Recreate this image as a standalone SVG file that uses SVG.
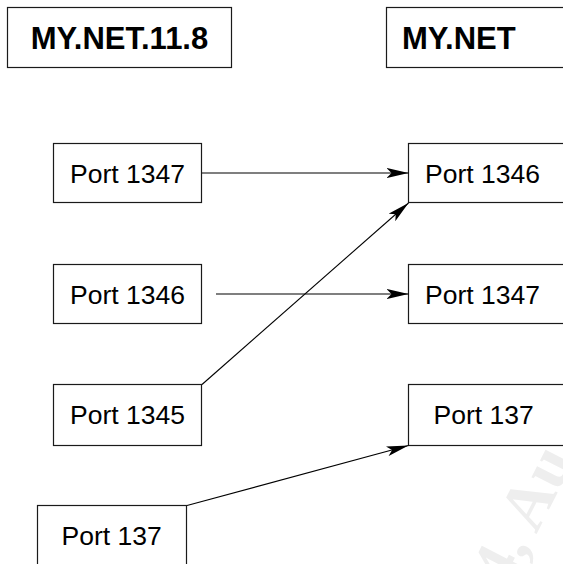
<svg xmlns="http://www.w3.org/2000/svg" width="563" height="564" viewBox="0 0 563 564">
  <style>
    .box { fill: #ffffff; stroke: #1a1a1a; stroke-width: 1.2; }
    .title { font-family: "Liberation Sans", Arial, sans-serif; font-size: 31px; font-weight: bold; fill: #000; }
    .port { font-family: "Liberation Sans", Arial, sans-serif; font-size: 26.5px; fill: #000; }
    .wire { stroke: #000; stroke-width: 1.1; fill: none; marker-end: url(#head); }
    .wm { font-family: "Liberation Serif", "Times New Roman", serif; font-size: 66px; font-weight: bold; fill: #eeeeee; }
  </style>
  <defs>
    <marker id="head" markerUnits="userSpaceOnUse" viewBox="0 0 22 10" markerWidth="22" markerHeight="10" refX="22" refY="5" orient="auto">
      <path d="M0,0 L22,5 L0,10 L5,5 Z" fill="#000"/>
    </marker>
  </defs>
  <rect width="563" height="564" fill="#ffffff"/>

  <!-- faint background stamp -->
  <text class="wm" transform="translate(508,590) rotate(-63)">4, Au</text>

  <!-- host headers -->
  <g id="host-src">
    <rect class="box" x="7.5" y="7.5" width="224" height="60"/>
    <text class="title" x="119.5" y="49" text-anchor="middle">MY.NET.11.8</text>
  </g>
  <g id="host-dst">
    <rect class="box" x="386.5" y="7.5" width="200" height="60"/>
    <text class="title" x="402" y="49">MY.NET</text>
  </g>

  <!-- source ports -->
  <g id="src-1347">
    <rect class="box" x="53.5" y="143.5" width="148" height="59"/>
    <text class="port" x="70" y="183">Port 1347</text>
  </g>
  <g id="src-1346">
    <rect class="box" x="53.5" y="264.5" width="148" height="59"/>
    <text class="port" x="70" y="303.5">Port 1346</text>
  </g>
  <g id="src-1345">
    <rect class="box" x="53.5" y="384.5" width="148" height="61"/>
    <text class="port" x="70" y="423.5">Port 1345</text>
  </g>
  <g id="src-137">
    <rect class="box" x="37.5" y="505.5" width="149" height="70"/>
    <text class="port" x="61.5" y="545">Port 137</text>
  </g>

  <!-- destination ports -->
  <g id="dst-1346">
    <rect class="box" x="408.5" y="143.5" width="170" height="59"/>
    <text class="port" x="425" y="183">Port 1346</text>
  </g>
  <g id="dst-1347">
    <rect class="box" x="408.5" y="264.5" width="170" height="59"/>
    <text class="port" x="425" y="303.5">Port 1347</text>
  </g>
  <g id="dst-137">
    <rect class="box" x="408.5" y="384.5" width="170" height="61"/>
    <text class="port" x="433.5" y="423.5">Port 137</text>
  </g>

  <!-- connectors -->
  <g id="connectors">
    <line class="wire" x1="202" y1="173" x2="408.5" y2="173"/>
    <line class="wire" x1="216" y1="294" x2="408.5" y2="294"/>
    <line class="wire" x1="202" y1="384.5" x2="408.5" y2="203"/>
    <line class="wire" x1="187" y1="505.5" x2="408.5" y2="445.5"/>
  </g>
</svg>
